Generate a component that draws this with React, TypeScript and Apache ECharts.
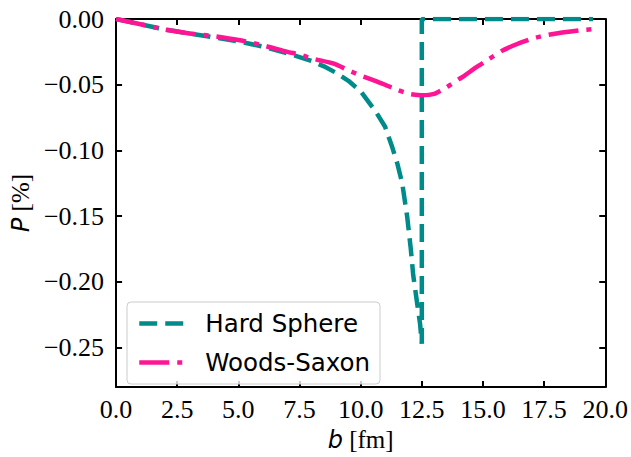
import React, { useEffect, useRef } from "react";
import * as echarts from "echarts";

const hardB = [0, 0.5, 1, 2, 2.5, 3, 4, 5, 6, 7, 7.5, 8, 8.5, 9, 9.5, 10, 10.6, 11, 11.3, 11.5, 11.7, 11.9, 12.05, 12.15, 12.3, 12.43, 12.5, 12.5, 13, 14, 15, 16, 17, 18, 19, 19.5];
const hardP = [0, -0.002, -0.004, -0.008, -0.0095, -0.011, -0.014, -0.017, -0.021, -0.026, -0.029, -0.032, -0.036, -0.041, -0.047, -0.055, -0.07, -0.082, -0.098, -0.11, -0.125, -0.15, -0.175, -0.195, -0.215, -0.232, -0.247, 0, 0, 0, 0, 0, 0, 0, 0, 0];

const wsB = [0, 1, 2, 2.5, 3, 4, 5, 6, 7, 7.5, 8, 8.9, 9.5, 10, 10.6, 11, 11.5, 12, 12.5, 13, 13.5, 14, 14.25, 14.7, 15.2, 15.8, 16.4, 17, 17.5, 18, 18.5, 19, 19.5];
const wsP = [0, -0.004, -0.008, -0.0095, -0.011, -0.013, -0.016, -0.02, -0.025, -0.027, -0.03, -0.034, -0.039, -0.043, -0.047, -0.05, -0.054, -0.057, -0.058, -0.057, -0.052, -0.046, -0.043, -0.037, -0.031, -0.024, -0.019, -0.015, -0.0127, -0.011, -0.0097, -0.0085, -0.0077];

const yTicks = [0, -0.05, -0.1, -0.15, -0.2, -0.25];
const seriesNames = ["Hard Sphere", "Woods-Saxon"];

const serif = "Liberation Serif";
const sans = "DejaVu Sans";
const teal = "#008B8B";
const pink = "#FF1493";
const hardDash = [18, 8];
const wsDash = [30, 8, 5, 8];

export default function App() {
  const ref = useRef<HTMLDivElement>(null);
  useEffect(() => {
    if (!ref.current) return;
    const chart = echarts.init(ref.current, null, { renderer: "svg" });
    const fmtY = (v: number) => {
      const s = Math.abs(v).toFixed(2);
      return v < -1e-9 ? "\u2212" + s : s;
    };
    const axisLine = { show: true, onZero: false, lineStyle: { color: "#000", width: 2 } };
    const tick = { inside: true, length: 6, lineStyle: { color: "#000", width: 2 } };
    chart.setOption({
      animation: false,
      grid: { left: 113, right: 21, top: 19, bottom: 65 },
      xAxis: [
        {
          type: "value",
          min: 0,
          max: 20,
          interval: 2.5,
          position: "bottom",
          axisLine,
          axisTick: tick,
          axisLabel: { color: "#000", fontFamily: serif, fontSize: 26, margin: 9, formatter: (v: number) => v.toFixed(1) },
          splitLine: { show: false },
          name: "{i|b} [fm]",
          nameLocation: "middle",
          nameGap: 38,
          nameTextStyle: {
            color: "#000",
            fontFamily: serif,
            fontSize: 25,
            rich: { i: { fontFamily: sans, fontStyle: "italic", fontSize: 24, color: "#000" } },
          },
        },
        {
          type: "value",
          min: 0,
          max: 20,
          interval: 2.5,
          position: "top",
          axisLine,
          axisTick: tick,
          axisLabel: { show: false },
          splitLine: { show: false },
        },
      ],
      yAxis: [
        {
          type: "value",
          min: -0.28,
          max: 0,
          position: "left",
          axisLine,
          axisTick: { ...tick, customValues: yTicks },
          axisLabel: { color: "#000", fontFamily: serif, fontSize: 26, margin: 12, customValues: yTicks, formatter: fmtY },
          splitLine: { show: false },
          name: "{i|P} [%]",
          nameLocation: "middle",
          nameRotate: 90,
          nameGap: 78,
          nameTextStyle: {
            color: "#000",
            fontFamily: serif,
            fontSize: 25,
            rich: { i: { fontFamily: sans, fontStyle: "italic", fontSize: 24, color: "#000" } },
          },
        },
        {
          type: "value",
          min: -0.28,
          max: 0,
          position: "right",
          axisLine,
          axisTick: { ...tick, customValues: yTicks },
          axisLabel: { show: false },
          splitLine: { show: false },
        },
      ],
      legend: {
        orient: "vertical",
        left: 127,
        top: 302,
        padding: [9, 10, 9, 10],
        itemWidth: 44,
        itemHeight: 24,
        itemGap: 14,
        borderColor: "#cccccc",
        borderWidth: 1,
        borderRadius: 4,
        backgroundColor: "rgba(255,255,255,0.8)",
        itemStyle: { opacity: 0 },
        textStyle: { fontFamily: sans, fontSize: 24.5, color: "#000", padding: [0, 0, 0, 17] },
        data: [
          { name: seriesNames[0], lineStyle: { color: teal, width: 4.5, type: hardDash }, itemStyle: { opacity: 0 } },
          { name: seriesNames[1], lineStyle: { color: pink, width: 4.5, type: wsDash }, itemStyle: { opacity: 0 } },
        ],
      },
      series: [
        {
          name: seriesNames[0],
          type: "line",
          xAxisIndex: 0,
          yAxisIndex: 0,
          showSymbol: false,
          symbol: "none",
          data: hardB.map((b, i) => [b, hardP[i]]),
          lineStyle: { color: teal, width: 4.5, type: hardDash },
          itemStyle: { color: teal },
        },
        {
          name: seriesNames[1],
          type: "line",
          xAxisIndex: 0,
          yAxisIndex: 0,
          showSymbol: false,
          symbol: "none",
          smooth: 0.2,
          data: wsB.map((b, i) => [b, wsP[i]]),
          lineStyle: { color: pink, width: 4.5, type: wsDash },
          itemStyle: { color: pink },
        },
      ],
    });
    return () => chart.dispose();
  }, []);
  return <div ref={ref} style={{ width: 631, height: 457, position: "absolute", left: 0, top: 0 }} />;
}
